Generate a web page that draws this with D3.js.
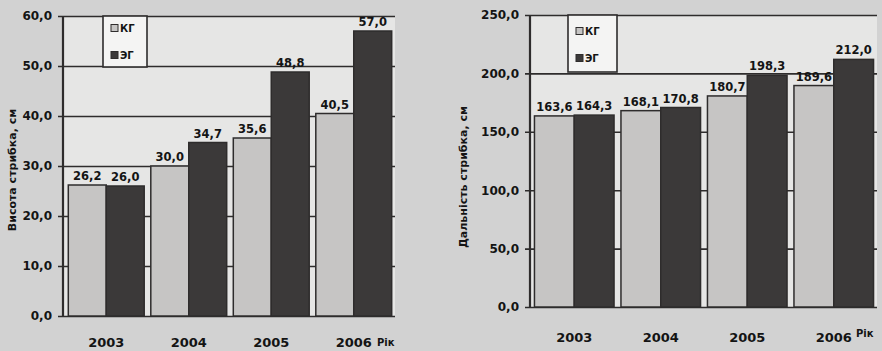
<!DOCTYPE html>
<html>
<head>
<meta charset="utf-8">
<script src="https://cdn.jsdelivr.net/npm/d3@7/dist/d3.min.js"></script>
<style>
  html, body { margin: 0; padding: 0; background: #d2d2d2; }
  svg { display: block; }
  text { font-family: "DejaVu Sans", Verdana, sans-serif; font-weight: bold; fill: #141414; }
</style>
</head>
<body>
<svg id="chart" width="882" height="351"></svg>
<script>
// Years and group names
const years = ["2003", "2004", "2005", "2006"];
const groups = ["КГ", "ЭГ"];

// Jump height, cm
const heightKG = [26.2, 30.0, 35.6, 40.5];
const heightEG = [26.0, 34.7, 48.8, 57.0];
const heightTicks = [0, 10, 20, 30, 40, 50, 60];

// Jump distance, cm
const distKG = [163.6, 168.1, 180.7, 189.6];
const distEG = [164.3, 170.8, 198.3, 212.0];
const distTicks = [0, 50, 100, 150, 200, 250];

const fmt = v => d3.format(".1f")(v).replace(".", ",");
const fills = { "КГ": "#c6c5c4", "ЭГ": "#3b3939" };
const ink = "#2e2c2c";

const svg = d3.select("#chart");
svg.append("rect").attr("width", 882).attr("height", 351).attr("fill", "#d2d2d2");

function drawChart(cfg) {
  const g = svg.append("g");
  const x = d3.scaleBand().domain(years).range(cfg.xRange).paddingInner(0.08).paddingOuter(0.04);
  const xs = d3.scaleBand().domain(groups).range([0, x.bandwidth()]);
  const y = d3.scaleLinear().domain([0, cfg.max]).range(cfg.yRange);

  // plot background
  g.append("rect")
    .attr("x", cfg.axisX).attr("y", y(cfg.max))
    .attr("width", cfg.xRange[1] - cfg.axisX).attr("height", y(0) - y(cfg.max))
    .attr("fill", "#e6e6e5");

  // gridlines with left ticks
  const grid = d3.axisLeft(y).tickValues(cfg.ticks).tickFormat(fmt)
    .tickSize(-(cfg.xRange[1] - cfg.axisX)).tickPadding(11);
  const ga = g.append("g").attr("transform", `translate(${cfg.axisX},0)`).call(grid);
  ga.select(".domain").remove();
  ga.selectAll(".tick line").attr("stroke", ink).attr("stroke-width", 1.6).attr("x1", -5);
  ga.selectAll(".tick text").attr("font-size", 12).attr("fill", "#141414")
    .style("font-family", "'DejaVu Sans', Verdana, sans-serif").style("font-weight", "bold");

  // bars
  const rows = years.map((yr, i) => ({ yr, KG: cfg.kg[i], EG: cfg.eg[i] }));
  const grp = g.selectAll(".grp").data(rows).join("g")
    .attr("transform", d => `translate(${x(d.yr)},0)`);
  grp.selectAll("rect").data(d => [
    { s: "КГ", v: d.KG }, { s: "ЭГ", v: d.EG }
  ]).join("rect")
    .attr("x", d => xs(d.s)).attr("width", xs.bandwidth())
    .attr("y", d => y(d.v)).attr("height", d => y(0) - y(d.v))
    .attr("fill", d => fills[d.s]).attr("stroke", ink).attr("stroke-width", 1.5);

  // value labels
  grp.selectAll("text").data(d => [
    { s: "КГ", v: d.KG }, { s: "ЭГ", v: d.EG }
  ]).join("text")
    .attr("x", d => xs(d.s) + xs.bandwidth() / 2)
    .attr("y", d => y(d.v) - 5)
    .attr("text-anchor", "middle").attr("font-size", 11.5)
    .text(d => fmt(d.v));

  // vertical axis line
  g.append("line")
    .attr("x1", cfg.axisX).attr("x2", cfg.axisX)
    .attr("y1", y(cfg.max)).attr("y2", y(0))
    .attr("stroke", ink).attr("stroke-width", 2.2);

  // category labels
  g.selectAll(".yr").data(years).join("text")
    .attr("x", d => x(d) + x.bandwidth() / 2).attr("y", cfg.labelY)
    .attr("text-anchor", "middle").attr("font-size", 13).text(d => d);
  g.append("text").attr("x", cfg.unitX).attr("y", cfg.unitY)
    .attr("font-size", 10).text("Рік");

  // y-axis title
  g.append("text")
    .attr("transform", `translate(${cfg.titleX},${cfg.titleY}) rotate(-90)`)
    .attr("text-anchor", "middle").attr("font-size", 11).text(cfg.title);

  // legend
  const L = cfg.legend;
  g.append("rect").attr("x", L.x).attr("y", L.y).attr("width", L.w).attr("height", L.h)
    .attr("fill", "#f4f4f3").attr("stroke", ink).attr("stroke-width", 1.6);
  groups.forEach((s, i) => {
    const cy = L.rows[i];
    g.append("rect").attr("x", L.x + 8).attr("y", cy - 3.5).attr("width", 7).attr("height", 7)
      .attr("fill", fills[s]).attr("stroke", ink).attr("stroke-width", 1);
    g.append("text").attr("x", L.x + 17).attr("y", cy + 4)
      .attr("font-size", 10).text(s);
  });
}

drawChart({
  kg: heightKG, eg: heightEG, ticks: heightTicks, max: 60,
  axisX: 63, xRange: [65, 395], yRange: [316, 16],
  labelY: 347, unitX: 377, unitY: 346,
  title: "Висота стрибка, см", titleX: 16, titleY: 170,
  legend: { x: 103, y: 16, w: 44, h: 51, rows: [28, 55] }
});

drawChart({
  kg: distKG, eg: distEG, ticks: distTicks, max: 250,
  axisX: 530, xRange: [531, 877], yRange: [307, 15],
  labelY: 342, unitX: 856, unitY: 337,
  title: "Дальність стрибка, см", titleX: 467, titleY: 177,
  legend: { x: 568, y: 15, w: 49, h: 57, rows: [31, 58] }
});
</script>
</body>
</html>
